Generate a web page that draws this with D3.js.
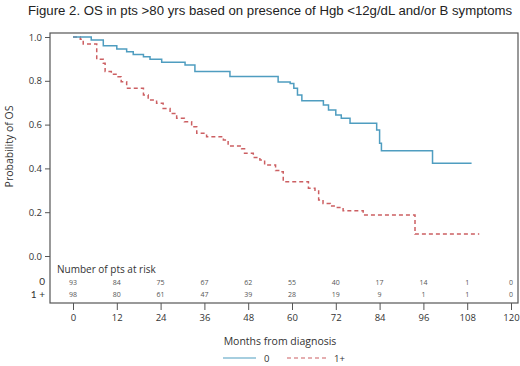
<!DOCTYPE html>
<html>
<head>
<meta charset="utf-8">
<script src="https://cdn.jsdelivr.net/npm/d3@7/dist/d3.min.js"></script>
<style>
  html, body { margin: 0; padding: 0; background: #fff; }
  svg { display: block; }
</style>
</head>
<body>
<svg id="chart" width="520" height="366"></svg>
<script>
// ---- Data ----
const titleText = "Figure 2. OS in pts >80 yrs based on presence of Hgb <12g/dL and/or B symptoms";
const groupNames = ["0", "1+"];
// Group "0" Kaplan-Meier steps (months, survival)
const g0Times = [0, 5, 8.3, 12, 14.7, 16.5, 19.3, 21.1, 24.3, 30.7, 33.4, 43, 56.2, 59.5, 60.5, 61.5, 62.7, 68.6, 70, 72, 73.5, 75.9, 83.2, 84, 84.5, 98.5, 109.2];
const g0Surv  = [1.0, 0.986, 0.96, 0.945, 0.933, 0.92, 0.91, 0.898, 0.885, 0.872, 0.843, 0.82, 0.795, 0.788, 0.766, 0.735, 0.709, 0.689, 0.667, 0.644, 0.629, 0.606, 0.575, 0.515, 0.481, 0.423, 0.423];
// Group "1+" Kaplan-Meier steps
const g1Times = [0, 2, 2.8, 6.5, 8.3, 8.8, 10.5, 12, 13.2, 14.7, 19.3, 20.6, 22.9, 24.7, 26.6, 28.4, 30.5, 32.5, 33.9, 36.6, 41.2, 42.5, 46.2, 47, 49.4, 51.2, 52.5, 55.5, 56.7, 57.6, 64.5, 66.3, 67.3, 68.5, 70.5, 72.2, 74, 79.5, 93.7, 111.3];
const g1Surv  = [1.0, 0.99, 0.968, 0.898, 0.88, 0.842, 0.83, 0.819, 0.796, 0.766, 0.735, 0.712, 0.697, 0.674, 0.651, 0.629, 0.613, 0.59, 0.56, 0.545, 0.53, 0.502, 0.49, 0.469, 0.45, 0.438, 0.416, 0.39, 0.385, 0.339, 0.309, 0.3, 0.256, 0.24, 0.228, 0.222, 0.207, 0.187, 0.1, 0.1];
// Risk table
const riskMonths = [0, 12, 24, 36, 48, 60, 72, 84, 96, 108, 120];
const risk0 = [93, 84, 75, 67, 62, 55, 40, 17, 14, 1, 0];
const risk1 = [98, 80, 61, 47, 39, 28, 19, 9, 1, 1, 0];
const xTicks = [0, 12, 24, 36, 48, 60, 72, 84, 96, 108, 120];
const yTicks = [0, 0.2, 0.4, 0.6, 0.8, 1.0];

// ---- Layout ----
const svg = d3.select("#chart");
const frame = {left: 50, top: 33, right: 518, bottom: 303};
const x = d3.scaleLinear().domain([0, 120]).range([73, 511]);
const y = d3.scaleLinear().domain([0, 1]).range([256, 37]);
const textFont = "'Open Sans', 'Noto Sans', sans-serif";
const colors = ["#4f9dc0", "#cc5f62"];

// Title
svg.append("text")
  .attr("x", 28).attr("y", 15)
  .attr("font-family", "'Liberation Sans', Arial, sans-serif")
  .attr("font-size", 13.2)
  .attr("fill", "#222")
  .text(titleText);

// Frame
svg.append("rect")
  .attr("x", frame.left).attr("y", frame.top)
  .attr("width", frame.right - frame.left).attr("height", frame.bottom - frame.top)
  .attr("fill", "none").attr("stroke", "#555").attr("stroke-width", 1.2);

// Y axis
const yAxis = svg.append("g")
  .attr("transform", `translate(${frame.left},0)`)
  .call(d3.axisLeft(y).tickValues(yTicks).tickFormat(d3.format(".1f")).tickSize(5).tickPadding(3));
yAxis.select(".domain").remove();
yAxis.selectAll("line").attr("stroke", "#555");
yAxis.selectAll("text").attr("font-family", textFont).attr("font-size", 9.5).attr("fill", "#333");

// X axis
const xAxis = svg.append("g")
  .attr("transform", `translate(0,${frame.bottom})`)
  .call(d3.axisBottom(x).tickValues(xTicks).tickSize(7).tickPadding(4));
xAxis.select(".domain").remove();
xAxis.selectAll("line").attr("stroke", "#555");
xAxis.selectAll("text").attr("font-family", textFont).attr("font-size", 9.5).attr("fill", "#333");

// Axis titles
svg.append("text")
  .attr("transform", `translate(13,${(y(0) + y(1)) / 2}) rotate(-90)`)
  .attr("text-anchor", "middle")
  .attr("font-family", textFont).attr("font-size", 10.5).attr("fill", "#333")
  .text("Probability of OS");

svg.append("text")
  .attr("x", 280).attr("y", 345)
  .attr("text-anchor", "middle")
  .attr("font-family", textFont).attr("font-size", 10.5).attr("fill", "#333")
  .text("Months from diagnosis");

// Curves
const line = d3.line().x(d => x(d[0])).y(d => y(d[1])).curve(d3.curveStepAfter);
const g0 = g0Times.map((t, i) => [t, g0Surv[i]]);
const g1 = g1Times.map((t, i) => [t, g1Surv[i]]);

svg.append("path").datum(g1).attr("d", line)
  .attr("fill", "none").attr("stroke", colors[1]).attr("stroke-width", 1.5)
  .attr("stroke-dasharray", "4,3");
svg.append("path").datum(g0).attr("d", line)
  .attr("fill", "none").attr("stroke", colors[0]).attr("stroke-width", 1.5);

// Risk table
svg.append("text")
  .attr("x", 57).attr("y", 272.5)
  .attr("font-family", textFont).attr("font-size", 10).attr("fill", "#333")
  .text("Number of pts at risk");

const riskRows = [risk0, risk1];
const rowY = [285, 297.5];
riskRows.forEach((row, r) => {
  svg.append("text")
    .attr("x", 45).attr("y", rowY[r])
    .attr("text-anchor", "end")
    .attr("font-family", "Lato, 'Open Sans', sans-serif").attr("font-size", 10).attr("fill", "#333")
    .text(r === 0 ? "0" : "1 +");
  svg.selectAll(null).data(row).enter().append("text")
    .attr("x", (d, i) => x(riskMonths[i]))
    .attr("y", rowY[r] - 0.5)
    .attr("text-anchor", "middle")
    .attr("font-family", textFont).attr("font-size", 7).attr("fill", "#555")
    .text(d => d);
});

// Legend
const legY = 358;
const legend = svg.append("g");
legend.append("line").attr("x1", 223).attr("x2", 256).attr("y1", legY).attr("y2", legY)
  .attr("stroke", colors[0]).attr("stroke-width", 1.2);
legend.append("text").attr("x", 264).attr("y", legY + 3.5)
  .attr("font-family", textFont).attr("font-size", 9.5).attr("fill", "#333").text(groupNames[0]);
legend.append("line").attr("x1", 287).attr("x2", 326).attr("y1", legY).attr("y2", legY)
  .attr("stroke", colors[1]).attr("stroke-width", 1.2).attr("stroke-dasharray", "4,3");
legend.append("text").attr("x", 334).attr("y", legY + 3.5)
  .attr("font-family", textFont).attr("font-size", 9.5).attr("fill", "#333").text(groupNames[1]);
</script>
</body>
</html>
